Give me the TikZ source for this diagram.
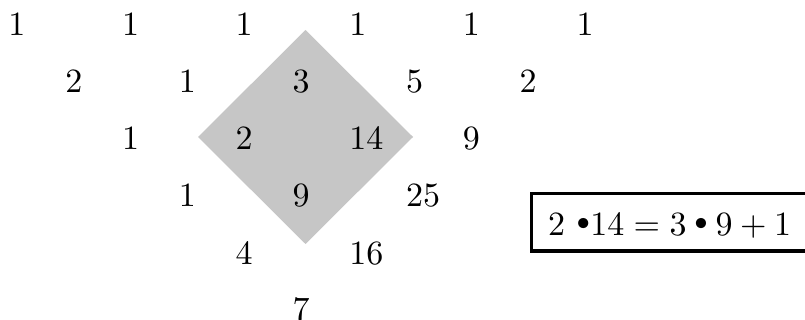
\documentclass[tikz,border=0pt]{standalone}
\newcommand\eqbul{\raisebox{1.9pt}{$\scriptstyle\bullet$}}
\begin{document}
\begin{tikzpicture}[x=1pt,y=-1pt,
  num/.style={anchor=base west,inner sep=0pt,outer sep=0pt,scale=3.4,font=\normalsize},
  shade/.style={fill={rgb,255:red,198;green,198;blue,198},draw=none}]
\useasboundingbox (0,0) rectangle (805,320);
\clip (0,0) rectangle (805,320);
% diamond
\coordinate (dt) at (305.5,30);
\coordinate (dl) at (198,137);
\coordinate (dr) at (413,137);
\coordinate (db) at (305.5,244);
\fill[shade] (dl) -- (dt) -- (dr) -- cycle;
\fill[shade] (dl) -- (db) -- (dr) -- cycle;
% row 1
\foreach \k/\v [count=\i] in {0/1,2/1,4/1,6/1,8/1,10/1}
  \node[num] (r1n\i) at ({8.5+56.8*\k},36) {\v};
% row 2
\foreach \k/\v [count=\i] in {1/2,3/1,5/3,7/5,9/2}
  \node[num] (r2n\i) at ({8.5+56.8*\k},93) {\v};
% row 3
\foreach \k/\v [count=\i] in {2/1,4/2,6/14,8/9}
  \node[num] (r3n\i) at ({8.5+56.8*\k},150) {\v};
% row 4
\foreach \k/\v [count=\i] in {3/1,5/9,7/25}
  \node[num] (r4n\i) at ({8.5+56.8*\k},207) {\v};
% row 5
\foreach \k/\v [count=\i] in {4/4,6/16}
  \node[num] (r5n\i) at ({8.5+56.8*\k},264) {\v};
% row 6
\node[num] (r6n1) at ({8.5+56.8*5},320.5) {7};
% formula box
\draw[line width=3pt] (531,194) rectangle (840,251);
\node[num] (eq) at (548,236) {$2\ \eqbul 14 = 3 \mathbin{\eqbul} 9 + 1$};
\end{tikzpicture}
\end{document}
